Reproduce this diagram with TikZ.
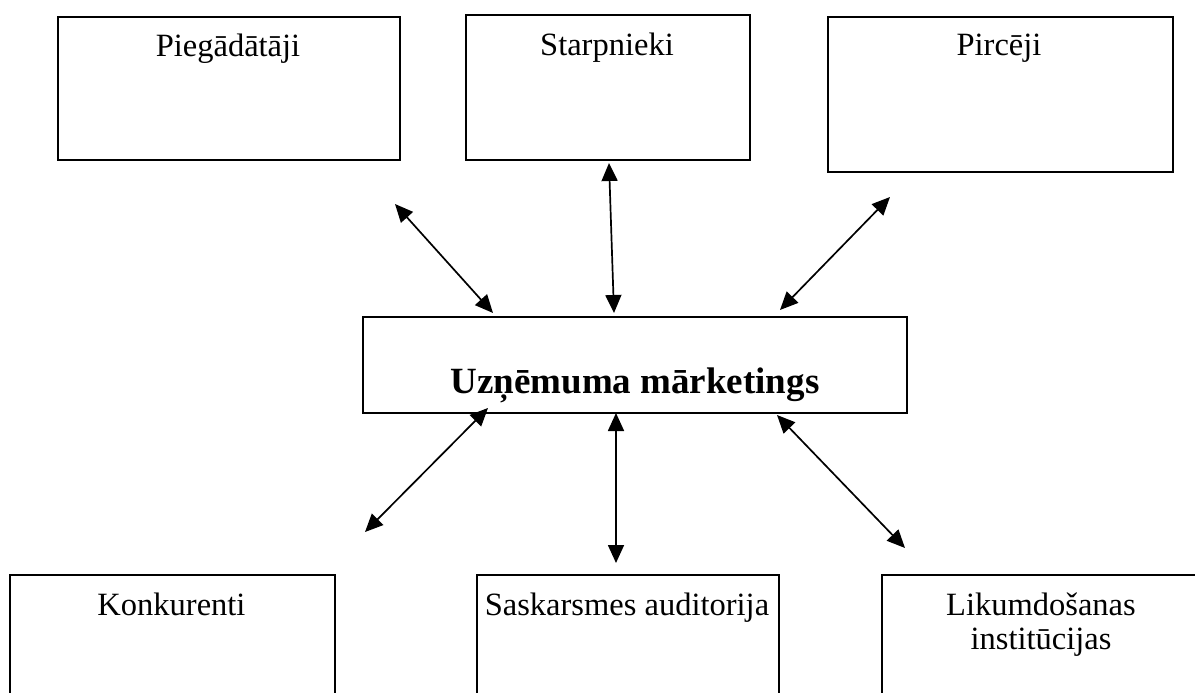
\documentclass[tikz,border=0pt]{standalone}
\usepackage{fontspec}
\setmainfont{Liberation Serif}
\usetikzlibrary{arrows.meta}
\begin{document}
\begin{tikzpicture}[x=1pt,y=-1pt,
  box/.style={draw=black, line width=1.8pt, anchor=north west, inner sep=0pt},
  lbl/.style={anchor=base, inner sep=0pt, font=\fontsize{32.5}{37}\selectfont},
  title/.style={anchor=base, inner sep=0pt, font=\fontsize{37}{42}\selectfont\bfseries},
  link/.style={line width=1.7pt, {Triangle[length=18pt,width=16pt]}-{Triangle[length=18pt,width=16pt]}}]
\useasboundingbox (0,0) rectangle (1195,693);
\clip (0,0) rectangle (1195,693);
\fill[white] (0,0) rectangle (1195,693);

% upper row
\node[box, minimum width=342pt, minimum height=143pt] (sup) at (57,16) {};
\node[lbl] (supT) at (228,57) {Piegādātāji};
\node[box, minimum width=284pt, minimum height=145pt] (mid) at (465,14) {};
\node[lbl] (midT) at (607,56) {Starpnieki};
\node[box, minimum width=345pt, minimum height=155pt] (buy) at (827,16) {};
\node[lbl] (buyT) at (999,56) {Pircēji};

% company in the centre
\node[box, minimum width=544pt, minimum height=96pt] (co) at (362,316) {};
\node[title] (coT) at (635,393) {Uzņēmuma mārketings};

% lower row
\node[box, minimum width=325pt, minimum height=150pt] (comp) at (9,574) {};
\node[lbl] (compT) at (171.5,615) {Konkurenti};
\node[box, minimum width=302pt, minimum height=150pt] (pub) at (476,574) {};
\node[lbl] (pubT) at (627,615) {Saskarsmes auditorija};
\node[box, minimum width=320pt, minimum height=150pt] (law) at (881,574) {};
\node[lbl] (lawT) at (1041,615) {Likumdošanas};
\node[lbl] (lawT2) at (1041,649) {institūcijas};

% arrow ends
\coordinate (a1) at (395,204);  \coordinate (b1) at (493,313);
\coordinate (a2) at (609,163);  \coordinate (b2) at (614,313);
\coordinate (a3) at (890,197);  \coordinate (b3) at (780,310);
\coordinate (a4) at (488,408);  \coordinate (b4) at (365,532);
\coordinate (a5) at (616,413);  \coordinate (b5) at (616,563);
\coordinate (a6) at (777,415);  \coordinate (b6) at (905,548);

\draw[link] (a1) -- (b1);
\draw[link] (a2) -- (b2);
\draw[link] (a3) -- (b3);
\draw[link] (a4) -- (b4);
\draw[link] (a5) -- (b5);
\draw[link] (a6) -- (b6);
\end{tikzpicture}
\end{document}
